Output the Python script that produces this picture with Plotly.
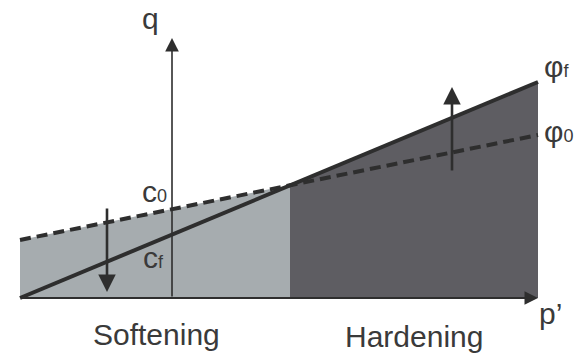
import plotly.graph_objects as go

# ---- data (units: p' horizontally, q vertically; q-axis at p' = 0) ----
p_nodes = [-1.52, 1.18, 3.66]      # left edge, intersection of envelopes, right edge
q_phi0 = [0.58, 1.13, 1.63]        # initial envelope (dashed, c0 / phi0)
q_phif = [0.00, 1.13, 2.16]        # final envelope (solid, cf / phif)
q_axis_top = 2.60
p_axis_end = 3.66

soft_arrow_p = -0.65
soft_arrow_q = [0.91, 0.06]        # tail, tip
hard_arrow_p = 2.80
hard_arrow_q = [1.26, 2.11]        # tail, tip

labels = ["q", "c<span style='font-size:18px'>0</span>", "c<span style='font-size:18px'>f</span>",
          "φ<span style='font-size:18px'>f</span>", "φ<span style='font-size:18px'>0</span>",
          "p’", "Softening", "Hardening"]
label_p = [-0.22, -0.18, -0.19, 3.70, 3.70, 3.65, -0.155, 2.42]
label_q = [2.80, 1.064, 0.404, 2.32, 1.67, -0.15, -0.366, -0.386]
label_anchor = ["center", "center", "center", "left", "left", "left", "center", "center"]

LIGHT = "#a6acaf"
DARK = "#5e5d62"
INK = "#2e2e2e"
TEXT = "#3a3a3a"
FONT = "Liberation Sans, Arial, sans-serif"

fig = go.Figure()

# shaded regions
fig.add_trace(go.Scatter(
    x=[p_nodes[0], p_nodes[0], p_nodes[1], p_nodes[1]],
    y=[0, q_phi0[0], q_phi0[1], 0],
    fill="toself", fillcolor=LIGHT, mode="lines", line=dict(width=0),
    hoverinfo="skip"))
fig.add_trace(go.Scatter(
    x=[p_nodes[1], p_nodes[1], p_nodes[2], p_nodes[2]],
    y=[0, q_phif[1], q_phif[2], 0],
    fill="toself", fillcolor=DARK, mode="lines", line=dict(width=0),
    hoverinfo="skip"))

# envelopes
fig.add_trace(go.Scatter(x=p_nodes, y=q_phi0, mode="lines",
                         line=dict(color=INK, width=4, dash="11px,6px"), hoverinfo="skip"))
fig.add_trace(go.Scatter(x=p_nodes, y=q_phif, mode="lines",
                         line=dict(color=INK, width=4), hoverinfo="skip"))

def arrow(x0, y0, x1, y1, width, size):
    fig.add_annotation(x=x1, y=y1, ax=x0, ay=y0, xref="x", yref="y", axref="x", ayref="y",
                       showarrow=True, arrowhead=2, arrowwidth=width, arrowsize=size,
                       arrowcolor=INK, text="", standoff=0, startstandoff=0)

# axes
arrow(0, 0, 0, q_axis_top, 1.6, 1.7)
arrow(p_nodes[0], 0, p_axis_end, 0, 2, 1.35)
# softening / hardening arrows
arrow(soft_arrow_p, soft_arrow_q[0], soft_arrow_p, soft_arrow_q[1], 2.6, 1.35)
arrow(hard_arrow_p, hard_arrow_q[0], hard_arrow_p, hard_arrow_q[1], 2.6, 1.35)

for t, x, y, a in zip(labels, label_p, label_q, label_anchor):
    fig.add_annotation(x=x, y=y, xref="x", yref="y", text=t, showarrow=False,
                       xanchor=a, yanchor="middle",
                       font=dict(family=FONT, size=30, color=TEXT))

# the page body has an 8px margin, so the figure is 8px smaller and starts 8px in
fig.update_layout(
    width=574, height=348, margin=dict(l=0, r=0, t=0, b=0),
    paper_bgcolor="white", plot_bgcolor="white", showlegend=False,
    xaxis=dict(range=[-1.64, 4.10], visible=False, fixedrange=True),
    yaxis=dict(range=[-0.58, 2.90], visible=False, fixedrange=True),
)
fig.write_html("out.html")
